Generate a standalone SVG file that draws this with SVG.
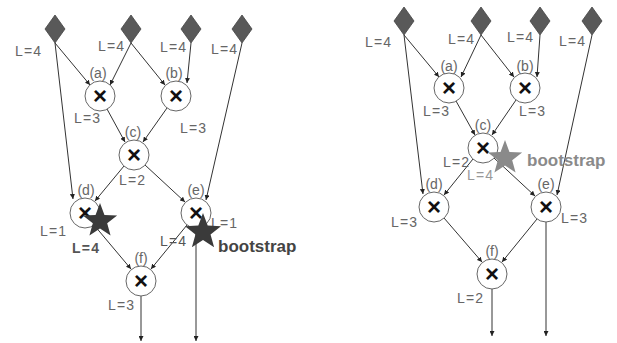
<svg xmlns="http://www.w3.org/2000/svg" width="617" height="343" viewBox="0 0 617 343">
<style>
.edge{stroke:#333;stroke-width:1;fill:none;marker-end:url(#ah)}
.dia{fill:#595959;stroke:#444;stroke-width:0.8}
.op{fill:#fff;stroke:#666;stroke-width:1}
.x{font-family:"Liberation Sans",Arial,sans-serif;font-size:24px;font-weight:bold;fill:#111;text-anchor:middle}
.lb{font-family:"Liberation Sans",Arial,sans-serif;font-size:14px;fill:#666;letter-spacing:1.2px}
.nm{font-family:"Liberation Sans",Arial,sans-serif;font-size:14px;fill:#666;text-anchor:middle}
.bs{font-family:"Liberation Sans",Arial,sans-serif;font-size:17px;font-weight:bold}
</style>
<defs>
<marker id="ah" viewBox="0 0 6 6" refX="6" refY="3" markerWidth="5" markerHeight="5" markerUnits="userSpaceOnUse" orient="auto">
<path d="M0,0 L6,3 L0,6 z" fill="#222"/>
</marker>
<path id="star" d="M0,-18 L4.45,-6.12 L17.12,-5.56 L7.18,2.34 L10.58,14.56 L0,7.56 L-10.58,14.56 L-7.18,2.34 L-17.12,-5.56 L-4.45,-6.12 Z"/>
<path id="dm" d="M0,-14 L10,0 L0,14 L-10,0 Z"/>
</defs>

<g id="connectors">
<!-- left -->
<line class="edge" x1="55" y1="43" x2="90" y2="85"/>
<line class="edge" x1="55" y1="43" x2="73" y2="199"/>
<line class="edge" x1="131" y1="43" x2="110" y2="85"/>
<line class="edge" x1="131" y1="43" x2="165" y2="85"/>
<line class="edge" x1="191" y1="43" x2="187" y2="83"/>
<line class="edge" x1="242" y1="43" x2="206" y2="200"/>
<line class="edge" x1="107" y1="109" x2="125" y2="142"/>
<line class="edge" x1="167" y1="108" x2="143" y2="142"/>
<line class="edge" x1="124" y1="166" x2="95" y2="201"/>
<line class="edge" x1="145" y1="165" x2="185" y2="202"/>
<line class="edge" x1="94" y1="225" x2="131" y2="269"/>
<line class="edge" x1="187" y1="225" x2="151" y2="269"/>
<line class="edge" x1="141" y1="296" x2="141" y2="341"/>
<line class="edge" x1="196" y1="228" x2="196" y2="341"/>
<!-- right -->
<line class="edge" x1="404" y1="35" x2="439" y2="77"/>
<line class="edge" x1="404" y1="35" x2="423" y2="194"/>
<line class="edge" x1="481" y1="35" x2="461" y2="77"/>
<line class="edge" x1="481" y1="35" x2="514" y2="77"/>
<line class="edge" x1="540" y1="35" x2="537" y2="77"/>
<line class="edge" x1="592" y1="35" x2="557" y2="195"/>
<line class="edge" x1="456" y1="101" x2="475" y2="135"/>
<line class="edge" x1="516" y1="100" x2="492" y2="135"/>
<line class="edge" x1="473" y1="159" x2="444" y2="195"/>
<line class="edge" x1="494" y1="158" x2="535" y2="196"/>
<line class="edge" x1="444" y1="218" x2="482" y2="262"/>
<line class="edge" x1="537" y1="219" x2="502" y2="262"/>
<line class="edge" x1="492" y1="289" x2="492" y2="336"/>
<line class="edge" x1="546" y1="222" x2="546" y2="336"/>
</g>

<!-- left diagram inputs -->
<g id="L-in1"><use href="#dm" class="dia" x="55" y="29"/><text class="lb" x="15" y="56">L=4</text></g>
<g id="L-in2"><use href="#dm" class="dia" x="131" y="29"/><text class="lb" x="98" y="51">L=4</text></g>
<g id="L-in3"><use href="#dm" class="dia" x="191" y="29"/><text class="lb" x="160" y="52">L=4</text></g>
<g id="L-in4"><use href="#dm" class="dia" x="242" y="29"/><text class="lb" x="211" y="54">L=4</text></g>

<g id="L-a"><circle class="op" cx="100" cy="96" r="15"/><text class="x" x="100" y="104">×</text><text class="nm" x="98" y="78">(a)</text><text class="lb" x="74" y="123">L=3</text></g>
<g id="L-b"><circle class="op" cx="176" cy="96" r="15"/><text class="x" x="176" y="104">×</text><text class="nm" x="174" y="78">(b)</text><text class="lb" x="180" y="133">L=3</text></g>
<g id="L-c"><circle class="op" cx="134" cy="155" r="15"/><text class="x" x="134" y="163">×</text><text class="nm" x="133" y="137">(c)</text><text class="lb" x="119" y="185">L=2</text></g>
<g id="L-d"><circle class="op" cx="85" cy="213" r="15"/><text class="x" x="85" y="221">×</text><text class="nm" x="86" y="195">(d)</text><text class="lb" x="40" y="236">L=1</text></g>
<g id="L-e"><circle class="op" cx="196" cy="213" r="15"/><text class="x" x="196" y="221">×</text><text class="nm" x="196" y="195">(e)</text><text class="lb" x="211" y="228">L=1</text></g>
<g id="L-f"><circle class="op" cx="141" cy="281" r="15"/><text class="x" x="141" y="289">×</text><text class="nm" x="141" y="263">(f)</text><text class="lb" x="108" y="310">L=3</text></g>

<g id="L-star1"><use href="#star" transform="translate(100,221)" fill="#3a3a3a"/><text class="lb" x="72" y="253" style="fill:#555;font-weight:bold">L=4</text></g>
<g id="L-star2"><use href="#star" transform="translate(203,232) scale(1.05)" fill="#3a3a3a"/><text class="lb" x="160" y="246" style="fill:#555">L=4</text><text class="bs" x="218" y="252" fill="#444">bootstrap</text></g>

<!-- right diagram inputs -->
<g id="R-in1"><use href="#dm" class="dia" x="404" y="21"/><text class="lb" x="365" y="47">L=4</text></g>
<g id="R-in2"><use href="#dm" class="dia" x="481" y="21"/><text class="lb" x="448" y="44">L=4</text></g>
<g id="R-in3"><use href="#dm" class="dia" x="540" y="21"/><text class="lb" x="507" y="42">L=4</text></g>
<g id="R-in4"><use href="#dm" class="dia" x="592" y="21"/><text class="lb" x="559" y="46">L=4</text></g>

<g id="R-a"><circle class="op" cx="449" cy="88" r="15"/><text class="x" x="449" y="96">×</text><text class="nm" x="449" y="71">(a)</text><text class="lb" x="423" y="116">L=3</text></g>
<g id="R-b"><circle class="op" cx="525" cy="88" r="15"/><text class="x" x="525" y="96">×</text><text class="nm" x="525" y="71">(b)</text><text class="lb" x="519" y="116">L=3</text></g>
<g id="R-c"><circle class="op" cx="483" cy="148" r="15"/><text class="x" x="483" y="156">×</text><text class="nm" x="483" y="130">(c)</text><text class="lb" x="443" y="167">L=2</text></g>
<g id="R-d"><circle class="op" cx="434" cy="207" r="15"/><text class="x" x="434" y="215">×</text><text class="nm" x="434" y="189">(d)</text><text class="lb" x="391" y="227">L=3</text></g>
<g id="R-e"><circle class="op" cx="546" cy="207" r="15"/><text class="x" x="546" y="215">×</text><text class="nm" x="546" y="189">(e)</text><text class="lb" x="561" y="223">L=3</text></g>
<g id="R-f"><circle class="op" cx="492" cy="274" r="15"/><text class="x" x="492" y="282">×</text><text class="nm" x="492" y="256">(f)</text><text class="lb" x="457" y="303">L=2</text></g>

<g id="R-star"><use href="#star" transform="translate(505,158)" fill="#8a8a8a"/><text class="lb" x="467" y="180" style="fill:#999">L=4</text><text class="bs" x="527" y="166" fill="#8a8a8a">bootstrap</text></g>
</svg>
